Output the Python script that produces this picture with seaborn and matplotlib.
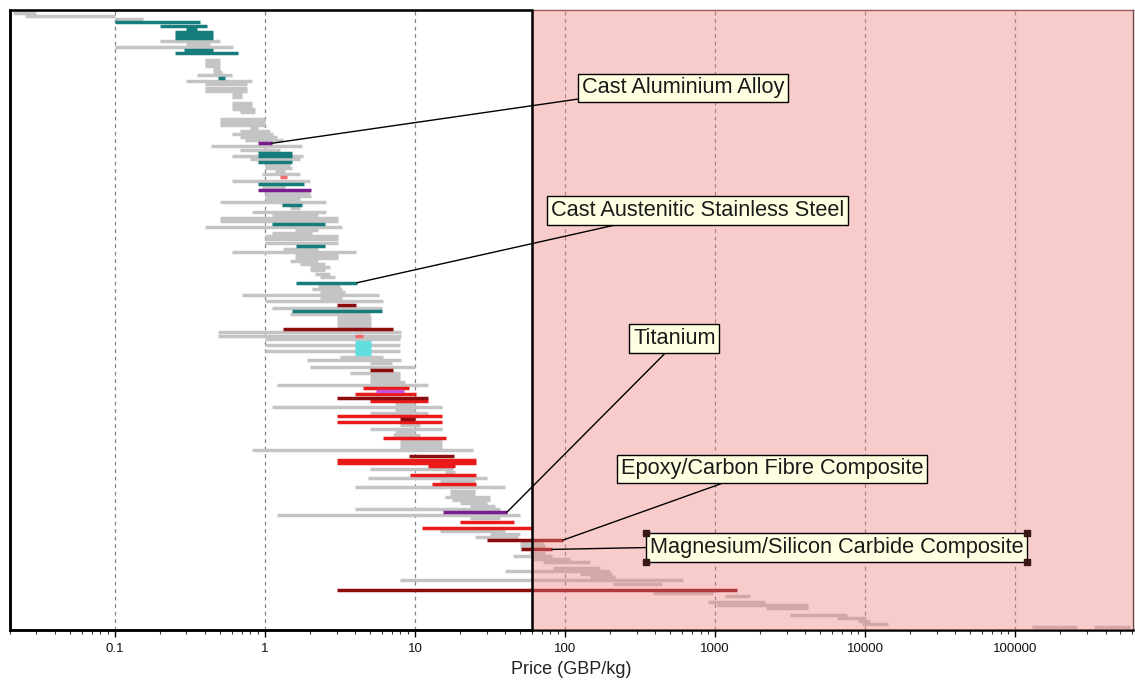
import numpy as np
import pandas as pd
import matplotlib
matplotlib.use("Agg")
import matplotlib.pyplot as plt
import seaborn as sns
from matplotlib.patches import Rectangle
from matplotlib.ticker import FixedLocator, FixedFormatter, LogLocator, NullFormatter

sns.set_style("white")
plt.rcParams["font.family"] = ["Liberation Sans", "DejaVu Sans"]

# ---------------- data (rank = position in sorted list, price range in GBP/kg) ----------------
gray_rank = [1, 2, 3, 10, 11, 12, 16, 17, 18, 19, 20, 21, 23, 24, 25, 26, 27, 28, 30, 31, 32, 33,
             35, 36, 37, 38, 39, 40, 41, 42, 44, 45, 47, 48, 50, 51, 52, 53, 55, 57, 59, 60, 61,
             62, 64, 65, 66, 67, 68, 70, 71, 72, 73, 74, 75, 77, 78, 79, 80, 81, 82, 83, 84, 85,
             86, 89, 90, 91, 92, 93, 94, 96, 98, 99, 100, 101, 102, 104, 105, 106, 108, 110, 112,
             113, 114, 115, 117, 118, 119, 120, 121, 124, 127, 128, 129, 130, 134, 135, 136, 137,
             139, 140, 141, 142, 148, 149, 151, 152, 154, 155, 156, 157, 158, 159, 160, 161, 163,
             164, 168, 169, 170, 172, 173, 175, 176, 177, 178, 180, 181, 182, 183, 184, 185, 188,
             189, 191, 192, 193, 195, 196, 197, 198, 199, 199]
gray_lo = [0.021, 0.025, 0.10, 0.20, 0.30, 0.10, 0.40, 0.40, 0.40, 0.45, 0.45, 0.35, 0.30, 0.40,
           0.40, 0.40, 0.60, 0.60, 0.60, 0.60, 0.60, 0.68, 0.50, 0.50, 0.50, 0.79, 0.68, 0.60,
           0.68, 0.74, 0.44, 0.68, 0.60, 0.79, 1.0, 1.0, 1.17, 0.95, 0.60, 0.95, 1.0, 1.0, 1.0,
           0.50, 1.47, 0.82, 1.11, 0.50, 0.50, 0.40, 1.58, 1.11, 1.0, 1.0, 1.0, 1.32, 0.60, 1.58,
           1.58, 1.47, 1.71, 2.0, 2.0, 2.15, 2.33, 2.26, 2.06, 2.33, 0.70, 2.33, 1.0, 1.11, 1.47,
           3.02, 3.02, 3.02, 3.02, 0.49, 0.49, 1.0, 1.0, 1.0, 3.16, 1.91, 5.0, 2.0, 3.69, 5.0,
           5.0, 5.0, 1.20, 4.3, 7.36, 1.11, 7.36, 5.0, 7.94, 5.0, 7.36, 7.1, 7.94, 7.94, 7.94,
           0.82, 5.0, 15.8, 4.86, 14.7, 3.98, 17.1, 17.1, 15.8, 17.6, 20.0, 23.3, 3.98, 1.20,
           23.3, 14.7, 31.6, 25.1, 50.0, 50.0, 58.5, 45.0, 61.0, 71.0, 83.0, 40.0, 126, 147,
           7.94, 210, 385, 1165, 898, 1030, 2200, 3170, 6500, 8900, 9600, 130000, 336000]
gray_hi = [0.030, 0.10, 0.154, 0.50, 0.43, 0.61, 0.50, 0.50, 0.50, 0.50, 0.52, 0.60, 0.82, 0.76,
           0.76, 0.76, 0.70, 0.70, 0.82, 0.82, 0.86, 0.86, 1.0, 1.0, 1.0, 0.90, 1.08, 1.13, 1.20,
           1.32, 1.76, 1.26, 1.79, 1.71, 1.47, 1.51, 1.36, 1.71, 2.0, 1.36, 2.0, 2.03, 1.71, 2.55,
           1.71, 2.55, 2.26, 3.07, 3.07, 3.26, 2.26, 2.06, 3.07, 3.07, 3.07, 2.26, 4.04, 3.07,
           3.07, 2.26, 2.51, 2.71, 2.51, 2.71, 2.93, 3.16, 3.26, 3.4, 5.74, 3.26, 6.1, 6.0, 5.0,
           5.1, 5.1, 5.1, 5.1, 8.06, 8.06, 7.94, 7.94, 7.94, 6.1, 8.06, 7.0, 10.0, 7.94, 7.94,
           7.94, 8.6, 12.2, 7.94, 10.0, 15.1, 10.0, 12.2, 10.8, 15.1, 10.0, 10.8, 15.1, 15.1,
           15.1, 24.4, 18.0, 18.5, 30.2, 25.1, 39.8, 25.1, 25.1, 31.6, 31.6, 30.2, 34.0, 36.9,
           50.0, 36.9, 39.8, 50.0, 48.6, 71.0, 74.0, 74.0, 82.0, 108, 147, 171, 200, 206, 215,
           612, 440, 970, 1710, 2150, 4170, 4170, 7600, 10200, 10800, 14200, 259000, 584000]

teal_rank = [4, 5, 6, 7, 8, 9, 13, 14, 22, 46, 47, 49, 56, 63, 69, 76, 88, 97]
teal_lo = [0.10, 0.20, 0.30, 0.25, 0.25, 0.25, 0.29, 0.25, 0.49, 0.90, 0.90, 0.90, 0.90, 1.30,
           1.11, 1.61, 1.61, 1.51]
teal_hi = [0.37, 0.41, 0.35, 0.45, 0.45, 0.45, 0.45, 0.66, 0.54, 1.51, 1.51, 1.51, 1.82, 1.76,
           2.51, 2.51, 4.1, 6.0]

purple_rank = [43, 58, 162]
purple_lo = [0.90, 0.90, 15.3]
purple_hi = [1.11, 2.03, 41.0]

violet_rank = [123]
violet_lo = [5.5]
violet_hi = [8.45]

cyan_rank = [107, 108, 109, 110, 111]
cyan_lo = [3.98, 3.98, 3.98, 3.98, 3.98]
cyan_hi = [5.1, 5.1, 5.1, 5.1, 5.1]

salmon_rank = [54, 105]
salmon_lo = [1.26, 3.98]
salmon_hi = [1.40, 4.5]

red_rank = [122, 124, 126, 131, 133, 138, 145, 146, 147, 150, 153, 165, 167]
red_lo = [4.5, 3.98, 5.0, 3.02, 3.02, 6.1, 3.02, 3.02, 12.2, 9.3, 13.0, 20.0, 11.1]
red_hi = [9.1, 10.2, 12.2, 15.1, 15.1, 16.1, 25.5, 25.5, 18.5, 25.5, 25.5, 45.7, 61.0]

darkred_rank = [95, 103, 116, 125, 132, 144, 171, 174, 187]
darkred_lo = [3.02, 1.32, 5.0, 3.02, 7.94, 9.1, 30.2, 51.0, 3.02]
darkred_hi = [4.04, 7.1, 7.1, 12.2, 10.0, 18.2, 97.0, 82.0, 1400.0]

limit_price = 60  # shaded region: price above limit
tick_values = [0.1, 1, 10, 100, 1000, 10000, 100000]
tick_labels = ["0.1", "1", "10", "100", "1000", "10000", "100000"]

# ---------------- build long table ----------------
families = [
    ("gray", gray_rank, gray_lo, gray_hi, "#c4c4c4"),
    ("teal", teal_rank, teal_lo, teal_hi, "#177c7c"),
    ("cyan", cyan_rank, cyan_lo, cyan_hi, "#62dede"),
    ("salmon", salmon_rank, salmon_lo, salmon_hi, "#f26a6a"),
    ("red", red_rank, red_lo, red_hi, "#ea1a1a"),
    ("darkred", darkred_rank, darkred_lo, darkred_hi, "#8a0c0c"),
    ("violet", violet_rank, violet_lo, violet_hi, "#c651d6"),
    ("purple", purple_rank, purple_lo, purple_hi, "#7b1d8e"),
]
rows = []
uid = 0
for name, rk, lo, hi, _ in families:
    for r, a, b in zip(rk, lo, hi):
        rows.append({"family": name, "unit": uid, "rank": r, "price": a})
        rows.append({"family": name, "unit": uid, "rank": r, "price": b})
        uid += 1
df = pd.DataFrame(rows)
palette = {f[0]: f[4] for f in families}
order = [f[0] for f in families]

# ---------------- figure ----------------
W, H = 1135, 683
fig = plt.figure(figsize=(W / 100, H / 100), dpi=100)
ax = fig.add_axes([10 / W, 1 - 630 / H, 1123 / W, 620 / H])
ax.set_xscale("log")
xmin, xmax = 0.02, 6.1e5

sns.lineplot(data=df, x="price", y="rank", hue="family", hue_order=order, palette=palette,
             units="unit", estimator=None, sort=False, linewidth=2.5,
             solid_capstyle="butt", legend=False, ax=ax)

ax.set_xlim(xmin, xmax)
ax.set_ylim(200, 0)
ax.set_yticks([])
ax.set_ylabel("")

# grid
ax.set_axisbelow(True)
ax.grid(True, axis="x", which="major", color="#808080", linestyle=(0, (3, 3)), linewidth=0.9)
ax.grid(False, axis="y")

# ticks
ax.xaxis.set_major_locator(FixedLocator(tick_values))
ax.xaxis.set_major_formatter(FixedFormatter(tick_labels))
ax.xaxis.set_minor_locator(LogLocator(base=10, subs=np.arange(2, 10)))
ax.xaxis.set_minor_formatter(NullFormatter())
ax.tick_params(axis="x", which="major", bottom=True, direction="out", length=5, width=1,
               color="black", labelsize=9.5, pad=4, labelcolor="#111111")
ax.tick_params(axis="x", which="minor", bottom=True, direction="out", length=3, width=0.8,
               color="#333333")
ax.set_xlabel("Price (GBP/kg)", fontsize=13, color="#222222", labelpad=5)

# spines
for s in ["left", "bottom"]:
    ax.spines[s].set_color("black")
    ax.spines[s].set_linewidth(1.8)
for s in ["top", "right"]:
    ax.spines[s].set_color("#6b4545")
    ax.spines[s].set_linewidth(1.0)

# pink overlay for prices above the limit
ax.axvspan(limit_price, xmax, facecolor="#f08080", alpha=0.4, lw=0, zorder=3)
ax.add_patch(Rectangle((xmin, 0), limit_price - xmin, 200, fill=False, ec="black", lw=1.8,
                       zorder=4, clip_on=False))

# annotations
box = dict(boxstyle="square,pad=0.17", fc="#ffffe1", ec="black", lw=1)
notes = [
    ("Cast Aluminium Alloy", purple_hi[0], purple_rank[0], (0.5093, 0.8742), (0, 0)),
    ("Cast Austenitic Stainless Steel", teal_hi[16], teal_rank[16], (0.4817, 0.6766), (0.28, 0)),
    ("Titanium", purple_hi[2], purple_rank[2], (0.5548, 0.4702), (0.44, 0)),
    ("Epoxy/Carbon Fibre Composite", darkred_hi[6], darkred_rank[6], (0.5441, 0.2597), (0.37, 0)),
    ("Magnesium/Silicon Carbide Composite", darkred_hi[7], darkred_rank[7], (0.5699, 0.1331), (0, 0.5)),
]
texts = []
for label, xv, yv, pos, rp in notes:
    t = ax.annotate(label, xy=(xv, yv), xytext=pos, textcoords="axes fraction",
                    ha="left", va="center", fontsize=15.7, color="#1a1a1a", bbox=box, zorder=6,
                    arrowprops=dict(arrowstyle="-", color="black", lw=1, relpos=rp,
                                    shrinkA=0, shrinkB=0))
    texts.append(t)

# selection handles on last box
fig.canvas.draw()
renderer = fig.canvas.get_renderer()
bb = texts[-1].get_bbox_patch().get_window_extent(renderer)
inv = ax.transData.inverted()
corners = inv.transform([[bb.x0, bb.y0], [bb.x1, bb.y0], [bb.x0, bb.y1], [bb.x1, bb.y1]])
ax.plot(corners[:, 0], corners[:, 1], ls="none", marker="s", ms=4.5, color="#3a1818",
        zorder=7, clip_on=False)

fig.savefig("out.png", dpi=100)
